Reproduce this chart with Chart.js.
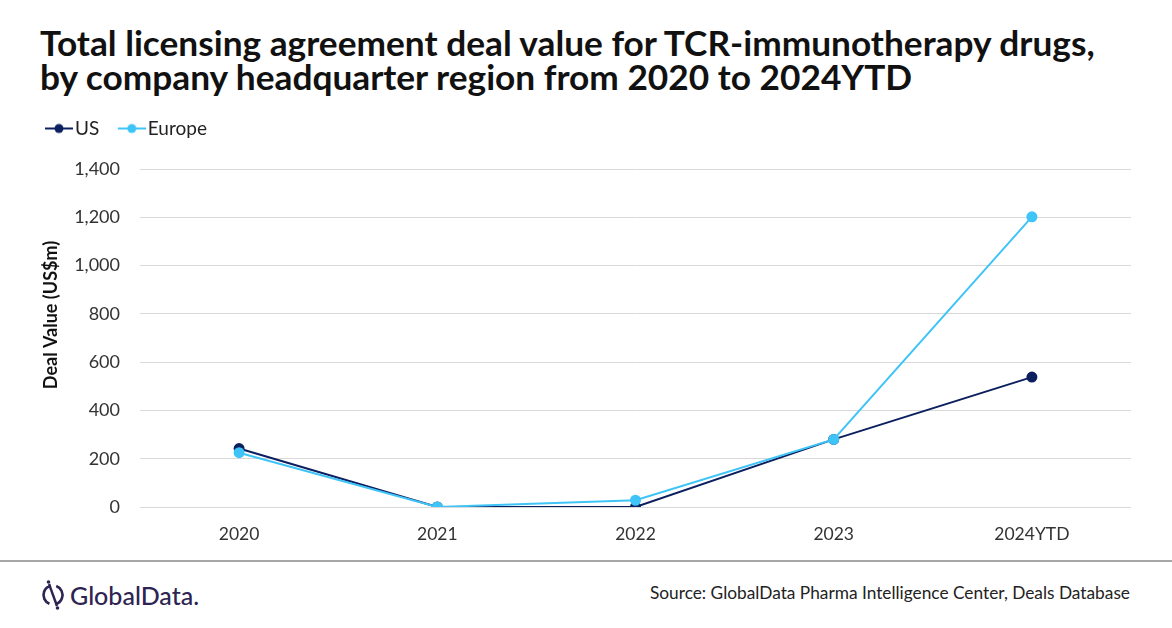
<!DOCTYPE html>
<html>
<head>
<meta charset="utf-8">
<script src="https://cdn.jsdelivr.net/npm/chart.js@4.4.1/dist/chart.umd.min.js"></script>
<style>
  html, body { margin: 0; padding: 0; background: #fff; }
  #wrap { position: relative; width: 1172px; height: 628px; overflow: hidden; font-family: Lato, "Open Sans", sans-serif; }
  #title { position: absolute; left: 40px; top: 26px; font-weight: bold; color: #111; line-height: 34px; white-space: nowrap; font-size: 30px; }
  #chartBox { position: absolute; left: 0; top: 110px; width: 1172px; height: 450px; }
  #sep { position: absolute; left: 0; top: 560px; width: 1172px; height: 2px; background: #a6a6a6; }
  #source { position: absolute; right: 42px; top: 582px; font-size: 17.3px; color: #222; }
  #logo { position: absolute; left: 41px; top: 579px; display: flex; align-items: center; color: #2e2452; font-size: 25px; font-weight: 500; }
  #logo svg { margin-right: 5px; }
</style>
</head>
<body>
<div id="wrap">
  <div id="title"><span id="t1">Total licensing agreement deal value for TCR-immunotherapy drugs,</span><br><span id="t2">by company headquarter region from 2020 to 2024YTD</span></div>
  <div id="chartBox"><canvas id="c" width="1172" height="450"></canvas></div>
  <div id="sep"></div>
  <div id="logo">
    <svg width="24" height="32" viewBox="0 0 24 32">
      <circle cx="12" cy="16" r="9.5" fill="none" stroke="#2e2452" stroke-width="2.6" stroke-dasharray="24 6" transform="rotate(-70 12 16)"/>
      <line x1="8" y1="5" x2="16" y2="27" stroke="#2e2452" stroke-width="2.4"/>
      <circle cx="7.5" cy="3" r="1.8" fill="#2e2452"/>
      <circle cx="16.5" cy="29" r="1.8" fill="#2e2452"/>
    </svg>
    <span>GlobalData.</span>
  </div>
  <div id="source">Source: GlobalData Pharma Intelligence Center, Deals Database</div>
</div>
<script>
// ---- data ----
const categories = ["2020", "2021", "2022", "2023", "2024YTD"];
const usValues = [242, 0, 0, 280, 538];
const europeValues = [225, 0, 28, 280, 1202];
const yTicks = [0, 200, 400, 600, 800, 1000, 1200, 1400];
const seriesNames = ["US", "Europe"];

const US_COLOR = "#0c1f5f";
const EU_COLOR = "#3fc4f7";
const FONT = "Lato, 'Open Sans', sans-serif";

// fit title font size to reference width (1053px for line 1)
(function fitTitle() {
  const t = document.getElementById("title");
  const w = document.getElementById("t1").getBoundingClientRect().width;
  t.style.fontSize = (30 * 1055 / w).toFixed(2) + "px";
})();

// legend icon: line with a dot; transparent padding on the left so it sits right next to the text
function legendIcon(color) {
  const c = document.createElement("canvas");
  c.width = 45; c.height = 12;
  const x = c.getContext("2d");
  x.strokeStyle = color; x.lineWidth = 2;
  x.beginPath(); x.moveTo(17, 6); x.lineTo(45, 6); x.stroke();
  x.fillStyle = color;
  x.beginPath(); x.arc(31, 6, 4.5, 0, Math.PI * 2); x.fill();
  return c;
}
const icons = [legendIcon(US_COLOR), legendIcon(EU_COLOR)];

const layoutTweaks = {
  id: "layoutTweaks",
  beforeInit(chart) {
    const orig = chart.legend.fit;
    chart.legend.fit = function () { orig.call(this); this.height = 59; };
  },
  beforeDraw(chart) {
    const ys = chart.scales.y;
    if (!ys._titleShifted) {
      const origTitle = ys.drawTitle.bind(ys);
      ys.drawTitle = function () {
        const ctx = chart.ctx;
        ctx.save(); ctx.translate(0, -23); origTitle(); ctx.restore();
      };
      ys._titleShifted = true;
    }
  }
};

new Chart(document.getElementById("c"), {
  type: "line",
  data: {
    labels: categories,
    datasets: [
      { label: seriesNames[0], data: usValues, borderColor: US_COLOR, backgroundColor: US_COLOR,
        pointBackgroundColor: US_COLOR, pointBorderColor: US_COLOR, borderWidth: 2, pointRadius: 4.5, order: 1, tension: 0 },
      { label: seriesNames[1], data: europeValues, borderColor: EU_COLOR, backgroundColor: EU_COLOR,
        pointBackgroundColor: EU_COLOR, pointBorderColor: EU_COLOR, borderWidth: 2, pointRadius: 4.5, order: 0, tension: 0 }
    ]
  },
  options: {
    responsive: false,
    animation: false,
    devicePixelRatio: 1,
    layout: { padding: { left: 26.5, right: 41, top: 0, bottom: 0 } },
    plugins: {
      legend: {
        position: "top",
        align: "start",
        labels: {
          usePointStyle: true,
          pointStyleWidth: 30,
          padding: 9,
          color: "#222",
          font: { family: FONT, size: 19 },
          sort: (a, b) => a.datasetIndex - b.datasetIndex,
          generateLabels(chart) {
            const items = Chart.defaults.plugins.legend.labels.generateLabels(chart);
            items.forEach(it => { it.pointStyle = icons[it.datasetIndex]; });
            return items;
          }
        }
      },
      tooltip: { enabled: false }
    },
    scales: {
      x: {
        offset: true,
        grid: { display: false, drawTicks: false },
        border: { display: false },
        ticks: { color: "#333", font: { family: FONT, size: 17.5 }, padding: 17 },
        afterFit(scale) { scale.height = 53; }
      },
      y: {
        min: 0, max: 1400,
        afterBuildTicks(scale) { scale.ticks = yTicks.map(v => ({ value: v })); },
        grid: { color: "#d9d9d9", lineWidth: 1, drawTicks: false },
        border: { display: false },
        ticks: {
          color: "#333", font: { family: FONT, size: 18 }, padding: 20,
          callback: v => Number(v).toLocaleString("en-US")
        },
        title: { display: true, text: "Deal Value (US$m)", color: "#111",
                 font: { family: FONT, size: 18, weight: "bold" }, padding: { top: 13.5, bottom: 0 } },
        afterFit(scale) { scale.width = 113.5; }
      }
    }
  },
  plugins: [layoutTweaks]
});
</script>
</body>
</html>
